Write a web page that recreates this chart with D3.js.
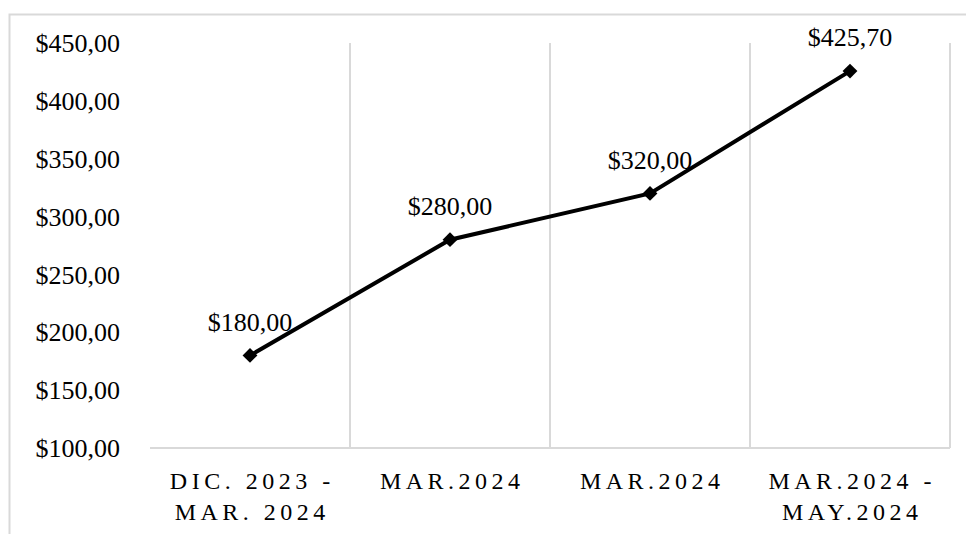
<!DOCTYPE html>
<html>
<head>
<meta charset="utf-8">
<script src="https://cdn.jsdelivr.net/npm/d3@7"></script>
<style>
  body { margin: 0; background: white; }
  text { font-family: "Liberation Serif", "Times New Roman", serif; fill: #000; }
</style>
</head>
<body>
<div id="chart"></div>
<script>
// chart data
const categories = [["DIC. 2023 -", "MAR. 2024"], ["MAR.2024"], ["MAR.2024"], ["MAR.2024 -", "MAY.2024"]]
const values = [180.00, 280.00, 320.00, 425.70]
const yTicks = [100, 150, 200, 250, 300, 350, 400, 450]

let margin = { top: 43, left: 150, right: 16, bottom: 86 },
  width = 966,
  height = 534

let svg = d3.select('#chart')
  .append('svg')
  .attr('width', width)
  .attr('height', height)
  .style('background-color', 'white')

// outer chart border (runs off the right and bottom edges)
svg.append('rect')
  .attr('x', 9.5)
  .attr('y', 14.5)
  .attr('width', width)
  .attr('height', height)
  .style('fill', 'none')
  .style('stroke', '#d9d9d9')
  .style('stroke-width', 2)

let x = d3.scaleBand()
  .domain(d3.range(categories.length))
  .range([margin.left, width - margin.right])

let y = d3.scaleLinear()
  .domain([100, 450])
  .range([height - margin.bottom, margin.top])

const fmt = v => '$' + d3.format('.2f')(v).replace('.', ',')

// vertical gridlines between categories
svg.append('g')
  .selectAll('line')
  .data(d3.range(1, categories.length + 1))
  .join('line')
  .attr('x1', d => x(d - 1) + x.bandwidth())
  .attr('x2', d => x(d - 1) + x.bandwidth())
  .attr('y1', y(450))
  .attr('y2', y(100))
  .style('stroke', '#d9d9d9')
  .style('stroke-width', 2)

// x axis line
svg.append('line')
  .attr('x1', margin.left)
  .attr('x2', width - margin.right)
  .attr('y1', y(100))
  .attr('y2', y(100))
  .style('stroke', '#d9d9d9')
  .style('stroke-width', 2)

// y tick labels
svg.append('g')
  .selectAll('text')
  .data(yTicks)
  .join('text')
  .attr('x', 120)
  .attr('y', d => y(d))
  .attr('dy', '0.35em')
  .style('text-anchor', 'end')
  .style('font-size', '26px')
  .text(d => fmt(d))

// category labels
const spacing = 4.5
let catG = svg.append('g')
  .selectAll('text')
  .data(categories)
  .join('text')
  .attr('x', (d, i) => x(i) + x.bandwidth() / 2 + spacing / 2)
  .attr('y', 481)
  .style('text-anchor', 'middle')
  .style('font-size', '24px')
  .style('letter-spacing', spacing + 'px')

catG.selectAll('tspan')
  .data(d => d)
  .join('tspan')
  .attr('x', function () { return d3.select(this.parentNode).attr('x') })
  .attr('dy', (d, i) => i === 0 ? '0.35em' : '31px')
  .text(d => d)

// the line
let line = d3.line()
  .x((d, i) => x(i) + x.bandwidth() / 2)
  .y(d => y(d))

svg.append('path')
  .datum(values)
  .attr('d', line)
  .style('fill', 'none')
  .style('stroke', '#000')
  .style('stroke-width', 4)

// diamond markers
svg.append('g')
  .selectAll('path')
  .data(values)
  .join('path')
  .attr('transform', (d, i) => `translate(${x(i) + x.bandwidth() / 2},${y(d)})`)
  .attr('d', d3.symbol().type(d3.symbolDiamond2).size(140))
  .style('fill', '#000')

// data labels
svg.append('g')
  .selectAll('text')
  .data(values)
  .join('text')
  .attr('x', (d, i) => x(i) + x.bandwidth() / 2)
  .attr('y', d => y(d) - 34)
  .attr('dy', '0.35em')
  .style('text-anchor', 'middle')
  .style('font-size', '26px')
  .text(d => fmt(d))
</script>
</body>
</html>
